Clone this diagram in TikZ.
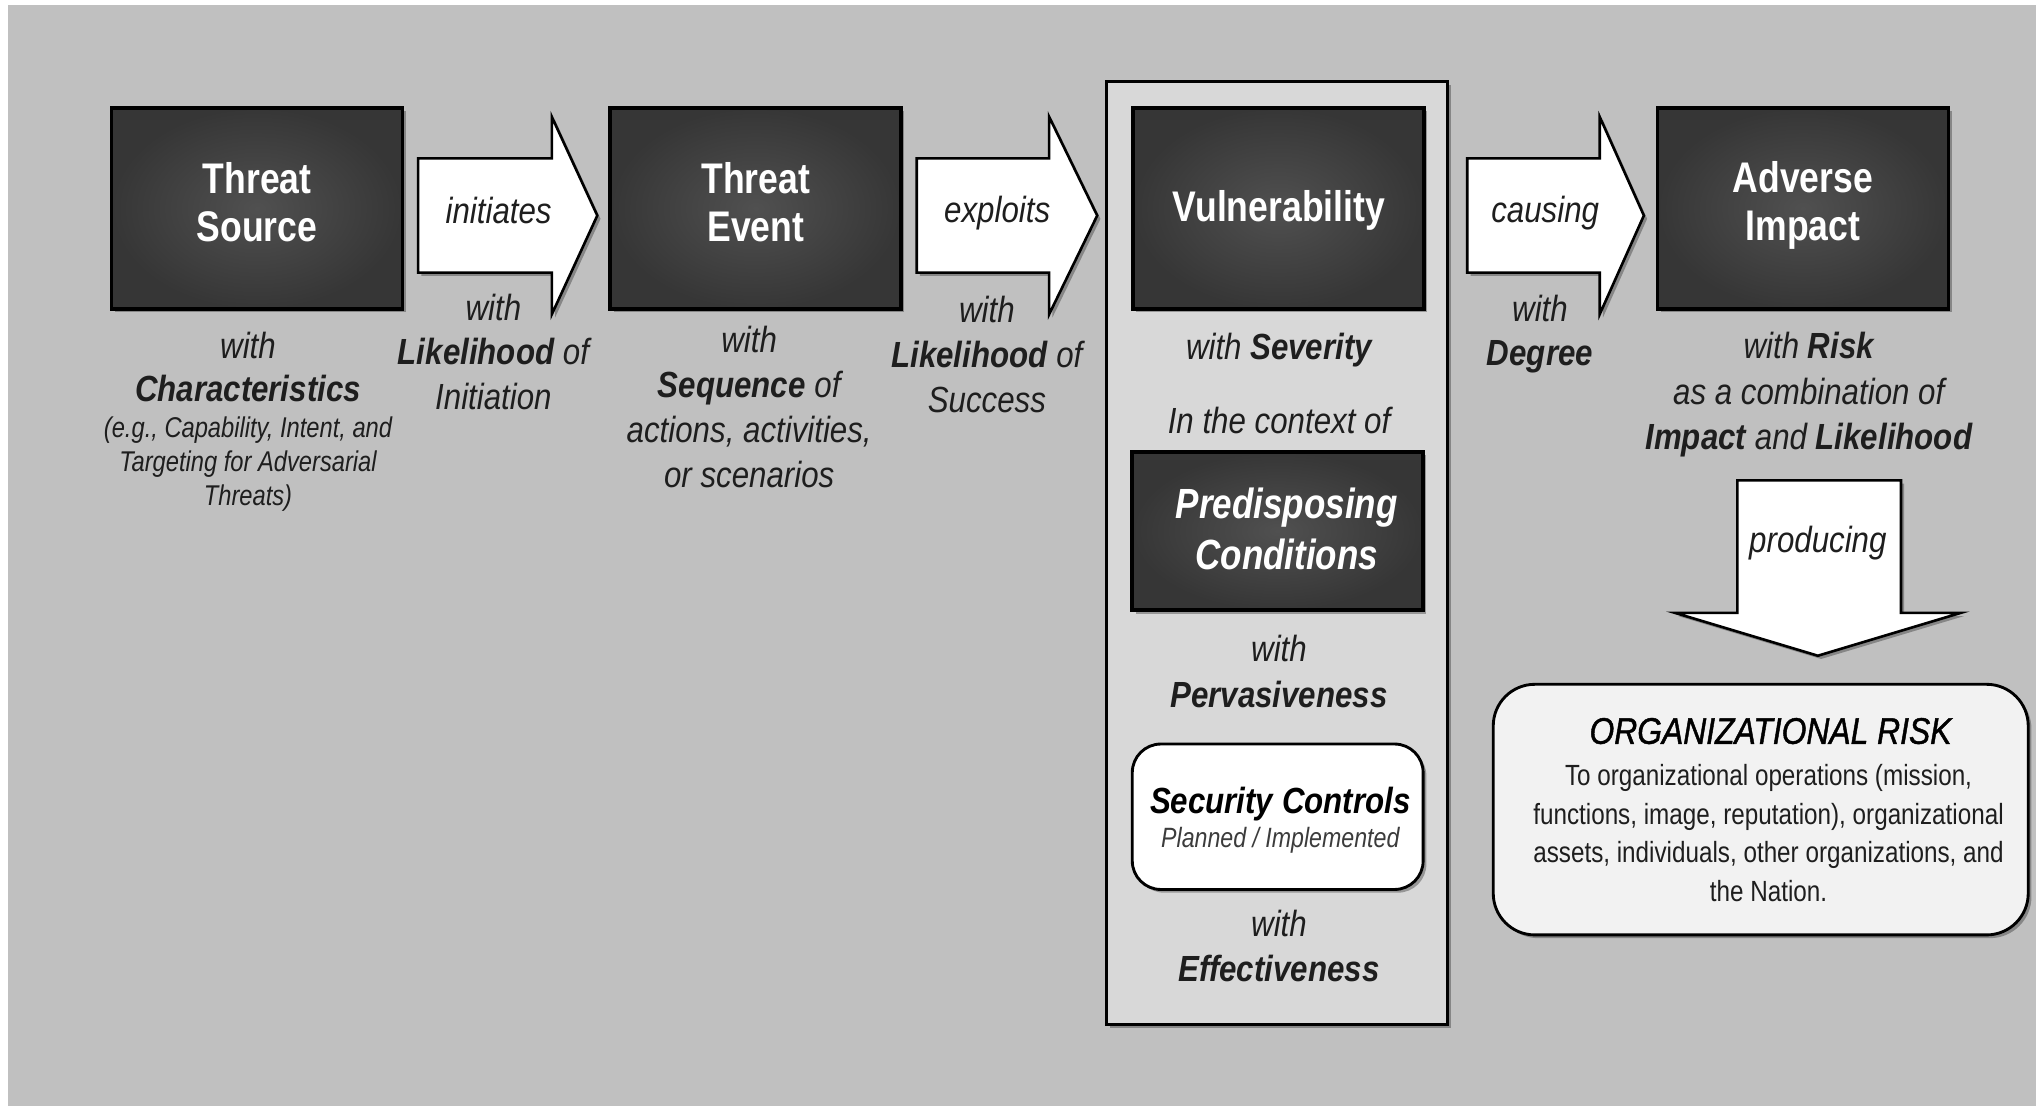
\documentclass[tikz,border=0pt]{standalone}
\usepackage{fontspec}
\setmainfont{Liberation Sans}
\newfontfamily\narfont[FakeStretch=0.83]{Liberation Sans}
\newfontfamily\labfont[FakeStretch=0.86]{Liberation Sans}
\newfontfamily\titfont[FakeStretch=0.86,FakeBold=1.2]{Liberation Sans}
\usetikzlibrary{shadows}
\definecolor{bggray}{RGB}{192,192,192}
\definecolor{panelgray}{RGB}{216,216,216}
\definecolor{darkin}{RGB}{80,80,80}
\definecolor{darkout}{RGB}{54,54,54}
\definecolor{txt}{RGB}{30,30,30}
\definecolor{riskfill}{RGB}{242,242,242}
\tikzset{
  softshadow/.style={drop shadow={shadow xshift=2.5pt, shadow yshift=-2.5pt, fill=black, opacity=0.3}},
  darkbox/.style={draw=black, line width=2.8pt, shading=radial, inner color=darkin, outer color=darkout,
    minimum width=224pt, minimum height=155pt, inner sep=0pt, softshadow},
  boxtext/.style={text=white, align=center, inner sep=0pt, font=\fontsize{33pt}{37pt}\selectfont\narfont\bfseries},
  panelbox/.style={draw=black, line width=2.5pt, fill=panelgray, minimum width=263pt, minimum height=726pt, inner sep=0pt, softshadow},
  secbox/.style={draw=black, line width=2.2pt, fill=white, rounded corners=22pt, minimum width=224pt, minimum height=112pt, inner sep=0pt, softshadow},
  riskbox/.style={draw=black, line width=2.2pt, fill=riskfill, rounded corners=32pt, minimum width=412pt, minimum height=193pt, inner sep=0pt, softshadow},
  blockarrow/.style={draw=black, line width=2pt, fill=white, line join=miter, softshadow},
  lbl/.style={text=txt, align=center, inner sep=0pt, font=\fontsize{28pt}{34.5pt}\selectfont\labfont\itshape},
  small/.style={text=txt, align=center, inner sep=0pt, font=\fontsize{22pt}{26pt}\selectfont\narfont\itshape},
}
\begin{document}
\begin{tikzpicture}[x=1pt,y=-1pt]
\useasboundingbox (0,0) rectangle (1568,854);
\fill[white] (0,0) rectangle (1568,854);
\fill[bggray] (6,4) rectangle (1568,852);

% vulnerability panel
\node[panelbox] (vpanel) at (983.5,426) {};

% dark boxes
\node[darkbox] (ts) at (198,160.5) {};
\node[boxtext] (tstext) at (198,155.5) {Threat\\Source};
\node[darkbox] (te) at (582,160.5) {};
\node[boxtext] (tetext) at (582,155.5) {Threat\\Event};
\node[darkbox] (vul) at (984.5,160.5) {};
\node[boxtext] (vultext) at (985,162) {Vulnerability};
\node[darkbox] (ai) at (1388.5,160.5) {};
\node[boxtext] (aitext) at (1388.5,158.5) {Adverse\\Impact};
\node[darkbox, minimum height=122pt] (pc) at (984,409) {};
\node[boxtext, font=\fontsize{32.5pt}{39pt}\selectfont\narfont\bfseries\itshape] (pctext) at (991,407.5) {Predisposing\\Conditions};

% block arrows
\draw[blockarrow] (322,122) -- (425,122) -- (425,90) -- (460,166) -- (425,242) -- (425,210) -- (322,210) -- cycle;
\draw[blockarrow] (706,122) -- (808,122) -- (808,90) -- (845,166) -- (808,242) -- (808,210) -- (706,210) -- cycle;
\draw[blockarrow] (1130,122) -- (1232,122) -- (1232,90) -- (1266,166) -- (1232,242) -- (1232,210) -- (1130,210) -- cycle;
\draw[blockarrow] (1338,370) -- (1464,370) -- (1464,472) -- (1510,472) -- (1400,505) -- (1290,472) -- (1338,472) -- cycle;

\node[lbl] (initiates) at (384,162) {initiates};
\node[lbl] (exploits) at (768,164) {exploits};
\node[lbl] (causing) at (1190,164) {causing};
\node[lbl] (producing) at (1400,418) {producing};

% texts below
\node[lbl, font=\fontsize{28pt}{33pt}\selectfont\labfont\itshape] (tsw) at (191,282.5) {with\\\textbf{Characteristics}};
\node[small] (tseg) at (191,357.5) {(e.g., Capability, Intent, and\\Targeting for Adversarial\\Threats)};
\node[lbl] (iniw) at (380,271) {with\\\textbf{Likelihood} of\\Initiation};
\node[lbl, font=\fontsize{28pt}{34.7pt}\selectfont\labfont\itshape] (tew) at (577,313.5) {with\\\textbf{Sequence} of\\actions, activities,\\or scenarios};
\node[lbl] (expw) at (760,273) {with\\\textbf{Likelihood} of\\Success};
\node[lbl] (sev) at (985,270) {with \textbf{Severity}};
\node[lbl] (ctx) at (985,324) {In the context of};
\node[lbl, font=\fontsize{28pt}{35pt}\selectfont\labfont\itshape] (perv) at (985,517) {with\\\textbf{Pervasiveness}};
\node[lbl, font=\fontsize{28pt}{34pt}\selectfont\labfont\itshape] (eff) at (985,728.5) {with\\\textbf{Effectiveness}};
\node[lbl, font=\fontsize{28pt}{34pt}\selectfont\labfont\itshape] (cauw) at (1186,257) {with\\\textbf{Degree}};
\node[lbl, font=\fontsize{28pt}{35pt}\selectfont\labfont\itshape] (aiw) at (1393,304) {with \textbf{Risk}\\as a combination of\\\textbf{Impact} and \textbf{Likelihood}};

% security controls
\node[secbox] (sc) at (984,629) {};
\node[lbl, font=\fontsize{28pt}{32pt}\selectfont\labfont\bfseries\itshape, text=black] (sctitle) at (986,619) {Security Controls};
\node[small, font=\fontsize{21.5pt}{24pt}\selectfont\narfont\itshape, text={rgb,255:red,60;green,60;blue,60}] (scsub) at (986,647) {Planned / Implemented};

% organizational risk
\node[riskbox] (risk) at (1356,623.5) {};
\node[lbl, font=\fontsize{28.5pt}{30pt}\selectfont\titfont\itshape, text=black] (risktitle) at (1363.5,563) {ORGANIZATIONAL RISK};
\node[small, font=\fontsize{22.5pt}{29.7pt}\selectfont\narfont, text=txt] (riskbody) at (1362,641.5) {To organizational operations (mission,\\functions, image, reputation), organizational\\assets, individuals, other organizations, and\\the Nation.};
\end{tikzpicture}
\end{document}
